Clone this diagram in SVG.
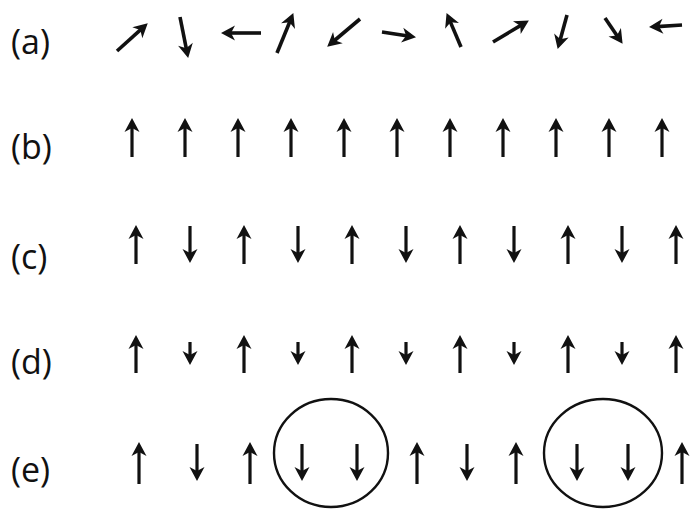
<svg xmlns="http://www.w3.org/2000/svg" width="694" height="512" viewBox="0 0 694 512">
  <defs>
    <style>
      .lbl { font-family: "Open Sans", "Liberation Sans", sans-serif; font-size: 34px; fill: #111; }
      .ar { stroke: #111; stroke-width: 3.2; fill: none; marker-end: url(#head); }
      .ara { stroke: #111; stroke-width: 3.6; fill: none; marker-end: url(#head); }
      .ring { stroke: #111; stroke-width: 2.4; fill: none; }
    </style>
    <marker id="head" markerUnits="userSpaceOnUse" viewBox="-10 -10 20 20" markerWidth="20" markerHeight="20" refX="0" refY="0" orient="auto" overflow="visible">
      <path d="M8,0 L-6,-7.5 L-2,0 L-6,7.5 Z" fill="#111"/>
    </marker>
  </defs>
  <rect width="694" height="512" fill="#fff"/>

  <g id="row-a">
    <text class="lbl" x="11" y="54">(a)</text>
    <line class="ara" x1="117" y1="51" x2="141.8" y2="28.7"/>
    <line class="ara" x1="180" y1="17" x2="186.6" y2="50.1"/>
    <line class="ara" x1="261" y1="33" x2="229" y2="33"/>
    <line class="ara" x1="277" y1="53" x2="290.3" y2="20.5"/>
    <line class="ara" x1="360" y1="19" x2="333.3" y2="41.5"/>
    <line class="ara" x1="382" y1="32" x2="408.1" y2="36"/>
    <line class="ara" x1="461" y1="47" x2="449.7" y2="20.4"/>
    <line class="ara" x1="493" y1="42" x2="522" y2="24.6"/>
    <line class="ara" x1="567" y1="15" x2="559.8" y2="41.2"/>
    <line class="ara" x1="605" y1="18" x2="618.1" y2="37.2"/>
    <line class="ara" x1="682" y1="25" x2="657" y2="26.6"/>
  </g>

  <g id="row-b">
    <text class="lbl" x="11" y="159">(b)</text>
    <line class="ar" x1="132" y1="157" x2="132" y2="126"/>
    <line class="ar" x1="185" y1="157" x2="185" y2="126"/>
    <line class="ar" x1="238" y1="157" x2="238" y2="126"/>
    <line class="ar" x1="291" y1="157" x2="291" y2="126"/>
    <line class="ar" x1="344" y1="157" x2="344" y2="126"/>
    <line class="ar" x1="397" y1="157" x2="397" y2="126"/>
    <line class="ar" x1="450" y1="157" x2="450" y2="126"/>
    <line class="ar" x1="503" y1="157" x2="503" y2="126"/>
    <line class="ar" x1="556" y1="157" x2="556" y2="126"/>
    <line class="ar" x1="609" y1="157" x2="609" y2="126"/>
    <line class="ar" x1="662" y1="157" x2="662" y2="126"/>
  </g>

  <g id="row-c">
    <text class="lbl" x="11" y="269">(c)</text>
    <line class="ar" x1="136" y1="264" x2="136" y2="233"/>
    <line class="ar" x1="190" y1="226" x2="190" y2="255"/>
    <line class="ar" x1="244" y1="264" x2="244" y2="233"/>
    <line class="ar" x1="298" y1="226" x2="298" y2="255"/>
    <line class="ar" x1="352" y1="264" x2="352" y2="233"/>
    <line class="ar" x1="406" y1="226" x2="406" y2="255"/>
    <line class="ar" x1="460" y1="264" x2="460" y2="233"/>
    <line class="ar" x1="514" y1="226" x2="514" y2="255"/>
    <line class="ar" x1="568" y1="264" x2="568" y2="233"/>
    <line class="ar" x1="622" y1="226" x2="622" y2="255"/>
    <line class="ar" x1="676" y1="264" x2="676" y2="233"/>
  </g>

  <g id="row-d">
    <text class="lbl" x="11" y="374">(d)</text>
    <line class="ar" x1="136" y1="373" x2="136" y2="343"/>
    <line class="ar" x1="190" y1="342" x2="190" y2="357"/>
    <line class="ar" x1="244" y1="373" x2="244" y2="343"/>
    <line class="ar" x1="298" y1="342" x2="298" y2="357"/>
    <line class="ar" x1="352" y1="373" x2="352" y2="343"/>
    <line class="ar" x1="406" y1="342" x2="406" y2="357"/>
    <line class="ar" x1="460" y1="373" x2="460" y2="343"/>
    <line class="ar" x1="514" y1="342" x2="514" y2="357"/>
    <line class="ar" x1="568" y1="373" x2="568" y2="343"/>
    <line class="ar" x1="622" y1="342" x2="622" y2="357"/>
    <line class="ar" x1="676" y1="373" x2="676" y2="343"/>
  </g>

  <g id="row-e">
    <text class="lbl" x="11" y="482">(e)</text>
    <line class="ar" x1="139" y1="484" x2="139" y2="450"/>
    <line class="ar" x1="197" y1="444" x2="197" y2="473"/>
    <line class="ar" x1="250" y1="484" x2="250" y2="450"/>
    <line class="ar" x1="302" y1="444" x2="302" y2="473"/>
    <line class="ar" x1="357" y1="444" x2="357" y2="473"/>
    <line class="ar" x1="417" y1="484" x2="417" y2="450"/>
    <line class="ar" x1="467" y1="444" x2="467" y2="473"/>
    <line class="ar" x1="516" y1="484" x2="516" y2="450"/>
    <line class="ar" x1="577" y1="444" x2="577" y2="473"/>
    <line class="ar" x1="628" y1="444" x2="628" y2="473"/>
    <line class="ar" x1="682" y1="484" x2="682" y2="450"/>
    <ellipse id="cluster-1" class="ring" cx="331" cy="453" rx="57" ry="54"/>
    <ellipse id="cluster-2" class="ring" cx="603" cy="453" rx="59" ry="54"/>
  </g>
</svg>
